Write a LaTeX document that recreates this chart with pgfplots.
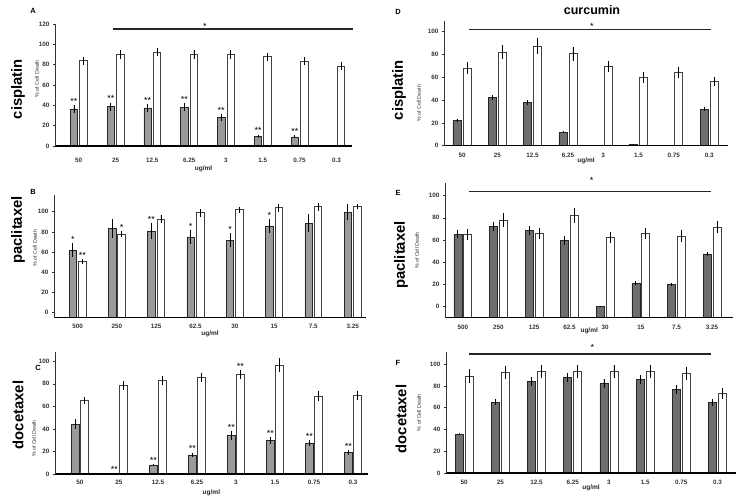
\documentclass[border=0pt]{standalone}
\usepackage{fontspec}
\setmainfont{Liberation Sans}
\usepackage{pgfplots}
\pgfplotsset{compat=1.18}
\usepackage{pgfplotstable}
\definecolor{lg}{HTML}{9A9A9A}
\definecolor{dg}{HTML}{6E6E6E}

\pgfplotstableread{
x g ge w we
0 36.4 4 84 4
1 38.7 4 90 4
2 37.4 4 92.4 4
3 38 4 89.8 4.5
4 27.9 3.5 89.8 4.5
5 9.8 1.5 87.8 4
6 8.9 1.5 83.2 4
7 nan nan 78.7 4
}\tabA
\pgfplotstableread{
x g ge w we
0 67 6.6 55.4 2.3
1 88.4 9 82.8 2.6
2 85.8 8 97.4 4
3 80 7 104 4
4 76.6 7 107 3
5 90.8 7 109 4
6 93.4 9 110 4
7 104.6 8 110 2.5
}\tabB
\pgfplotstableread{
x g ge w we
0 44 4.4 65.4 3
1 nan nan 78.4 4
2 8 1 83 4
3 17 2 86 4
4 34.3 4 88.5 4
5 30 3 96.7 6
6 27.5 3 69.2 4
7 19.2 2 70 4
}\tabC
\pgfplotstableread{
x g ge w we
0 22 1 68 5
1 42.5 2 82 6
2 38 2 87.5 7
3 12 1 80.5 6
4 nan nan 69.5 5
5 1 0.3 60 5
6 nan nan 64 5
7 32 1.5 56 4
}\tabD
\pgfplotstableread{
x g ge w we
0 75 3.6 75 5
1 82.3 4 88 6
2 78.7 4 76 5
3 69.7 4 92 7
4 10.2 0.5 72 5
5 31.2 1.5 75.7 5
6 30 1.5 73.6 5
7 57.4 2 81.7 5
}\tabE
\pgfplotstableread{
x g ge w we
0 35.7 1 89 6
1 65.2 3 92 6
2 83.8 4 93.3 6
3 87.5 4 93.3 6
4 82 4 93.3 6
5 85.7 4 93.3 6
6 76.8 4 91.5 6
7 64.6 3 73.2 5
}\tabF

\pgfplotsset{
 panel/.style={scale only axis, anchor=south west, axis lines=left, axis on top,
   axis line style={-}, x axis line style={line width=1.6pt},
   y axis line style={line width=0.6pt, black!80},
   ymin=0, xtick={0,...,7}, enlargelimits=false, clip=false,
   xtick style={draw=none}, ytick style={line width=0.5pt, black!80},
   tick align=outside, major tick length=2pt,
   tick label style={font=\fontsize{6.3}{7}\selectfont\bfseries, text=black!80},
   /pgf/number format/assume math mode=true,
   ylabel={\% of Cell Death},
   ylabel style={font=\fontsize{5.3}{6}\selectfont, text=black!80, anchor=center},
   xlabel={ug/ml},
   xlabel style={font=\fontsize{6.5}{7}\selectfont\bfseries, text=black!85, anchor=center, at={(axis description cs:0.5,0)}},
   xticklabel style={anchor=center}},
 yl/.style 2 args={ylabel style={at={(axis description cs:#1,#2)}}},
 xl/.style={xlabel style={yshift=-#1}},
 xtl/.style={xticklabel style={yshift=-#1}},
 bar/.style={ybar, bar width=7.5pt, bar shift=0pt, line width=0.6pt,
   error bars/y dir=both, error bars/y explicit, error bars/error mark=none,
   error bars/error bar style={line width=0.8pt, black}},
 gb/.style={bar, fill=#1, draw=black!85},
 wb/.style={bar, fill=white, draw=black!75, line width=0.8pt},
}
\newcommand{\st}[4]{\node[font=\fontsize{9}{9}\selectfont, anchor=south, inner sep=0.4pt, xshift=#3] at (axis cs:#1,#2) {#4};}
\newcommand{\rowlab}[3]{\node[rotate=90, font=\fontsize{14.8}{15}\selectfont\bfseries] at (#1pt,#2pt) {#3};}
\newcommand{\plab}[3]{\node[font=\fontsize{7.5}{8}\selectfont\bfseries] at (#1pt,#2pt) {#3};}

\begin{document}
\begin{tikzpicture}
\useasboundingbox (0,0) rectangle (742pt,500pt);

% ---------- A ----------
\begin{axis}[panel, at={(55pt,354pt)}, width=297.2pt, height=122pt,
  xmin=-0.645, xmax=7.43, ymax=120, ytick={0,20,...,120},
  xticklabels={50,25,12.5,6.25,3,1.5,0.75,0.3},
  yl={-0.061}{0.55}, xl=23pt, xtl=12pt]
\addplot[gb=lg] table[x expr=\thisrow{x}-0.129, y=g, y error=ge] {\tabA};
\addplot[wb] table[x expr=\thisrow{x}+0.129, y=w, y error=we] {\tabA};
\addplot[line width=1.4pt, black!85, no marks] coordinates {(0.93,115) (7.45,115)};
\node[font=\fontsize{9}{9}\selectfont, anchor=base, inner sep=0pt] at (axis cs:3.43,115) {*};
\st{0}{40.4}{-4.75pt}{**}
\st{1}{42.7}{-4.75pt}{**}
\st{2}{41.4}{-4.75pt}{**}
\st{3}{42}{-4.75pt}{**}
\st{4}{31.4}{-4.75pt}{**}
\st{5}{11.3}{-4.75pt}{**}
\st{6}{10.4}{-4.75pt}{**}
\end{axis}

% ---------- B ----------
\begin{axis}[panel, at={(54pt,182.3pt)}, width=312pt, height=122.2pt,
  xmin=-0.6, xmax=7.34, ymax=121, ytick={5,25,45,65,85,105},
  yticklabels={0,20,40,60,80,100},
  xticklabels={500,250,125,62.5,30,15,7.5,3.25},
  yl={-0.061}{0.57}, xl=16.3pt, xtl=6.7pt]
\addplot[gb=lg] table[x expr=\thisrow{x}-0.121, y=g, y error=ge] {\tabB};
\addplot[wb] table[x expr=\thisrow{x}+0.121, y=w, y error=we] {\tabB};
\st{0}{73.6}{-4.75pt}{*}
\st{0}{57.7}{4.75pt}{**}
\st{1}{85.4}{4.75pt}{*}
\st{2}{93.8}{-4.75pt}{**}
\st{3}{87}{-4.75pt}{*}
\st{4}{83.6}{-4.75pt}{*}
\st{5}{97.8}{-4.75pt}{*}
\end{axis}

% ---------- C ----------
\begin{axis}[panel, at={(55pt,26pt)}, width=312.8pt, height=122.3pt,
  xmin=-0.64, xmax=7.38, ymax=108.5, ytick={0,20,...,100},
  xticklabels={50,25,12.5,6.25,3,1.5,0.75,0.3},
  yl={-0.067}{0.29}, xl=18.7pt, xtl=6pt]
\addplot[gb=lg] table[x expr=\thisrow{x}-0.115, y=g, y error=ge] {\tabC};
\addplot[wb] table[x expr=\thisrow{x}+0.115, y=w, y error=we] {\tabC};
\st{1}{0.5}{-4.5pt}{**}
\st{2}{9}{-4.5pt}{**}
\st{3}{19}{-4.5pt}{**}
\st{4}{38.3}{-4.5pt}{**}
\st{4}{92.5}{4.5pt}{**}
\st{5}{33}{-4.5pt}{**}
\st{6}{30.5}{-4.5pt}{**}
\st{7}{21.2}{-4.5pt}{**}
\end{axis}

% ---------- D ----------
\begin{axis}[panel, at={(444pt,354.3pt)}, width=284.2pt, height=124.3pt,
  xmin=-0.51, xmax=7.54, ymax=109, ytick={0,20,...,100},
  xticklabels={50,25,12.5,6.25,3,1.5,0.75,0.3},
  yl={-0.088}{0.34}, xl=15.3pt, xtl=8pt]
\addplot[gb=dg, bar width=8pt] table[x expr=\thisrow{x}-0.142, y=g, y error=ge] {\tabD};
\addplot[wb, bar width=8pt] table[x expr=\thisrow{x}+0.142, y=w, y error=we] {\tabD};
\addplot[line width=1.4pt, black!85, no marks] coordinates {(0.2,102) (7.05,102)};
\node[font=\fontsize{9}{9}\selectfont, anchor=base, inner sep=0pt] at (axis cs:3.68,102) {*};
\end{axis}

% ---------- E ----------
\begin{axis}[panel, at={(445pt,182.3pt)}, width=288.4pt, height=134.3pt,
  xmin=-0.5, xmax=7.6, ymax=121, ytick={10,30,50,70,90,110},
  yticklabels={0,20,40,60,80,100},
  xticklabels={500,250,125,62.5,30,15,7.5,3.25},
  yl={-0.097}{0.5}, xl=13pt, xtl=7.3pt]
\addplot[gb=dg, bar width=8pt] table[x expr=\thisrow{x}-0.14, y=g, y error=ge] {\tabE};
\addplot[wb, bar width=8pt] table[x expr=\thisrow{x}+0.14, y=w, y error=we] {\tabE};
\addplot[line width=1.4pt, black!85, no marks] coordinates {(0.17,113.5) (6.97,113.5)};
\node[font=\fontsize{9}{9}\selectfont, anchor=base, inner sep=0pt, yshift=8pt] at (axis cs:3.62,113.5) {*};
\end{axis}

% ---------- F ----------
\begin{axis}[panel, at={(446pt,26.7pt)}, width=290pt, height=121.3pt,
  xmin=-0.5, xmax=7.51, ymax=111, ytick={0,20,...,100},
  xticklabels={50,25,12.5,6.25,3,1.5,0.75,0.3},
  yl={-0.093}{0.5}, xl=14.4pt, xtl=6.7pt]
\addplot[gb=dg, bar width=8pt] table[x expr=\thisrow{x}-0.138, y=g, y error=ge] {\tabF};
\addplot[wb, bar width=8pt] table[x expr=\thisrow{x}+0.138, y=w, y error=we] {\tabF};
\addplot[line width=1.4pt, black!85, no marks] coordinates {(0.14,109) (6.82,109)};
\node[font=\fontsize{9}{9}\selectfont, anchor=base, inner sep=0pt, yshift=3.8pt] at (axis cs:3.54,109) {*};
\end{axis}

% ---------- labels ----------
\rowlab{18}{411}{cisplatin}
\rowlab{18}{270}{paclitaxel}
\rowlab{18}{85}{docetaxel}
\rowlab{399}{410}{cisplatin}
\rowlab{401}{245}{paclitaxel}
\rowlab{401}{81}{docetaxel}
\plab{33}{489}{A}
\plab{33}{308}{B}
\plab{38}{132}{C}
\plab{398}{488}{D}
\plab{398}{307}{E}
\plab{398}{137}{F}
\node[font=\fontsize{12.5}{13}\selectfont\bfseries] at (592pt,490pt) {curcumin};
\end{tikzpicture}
\end{document}
